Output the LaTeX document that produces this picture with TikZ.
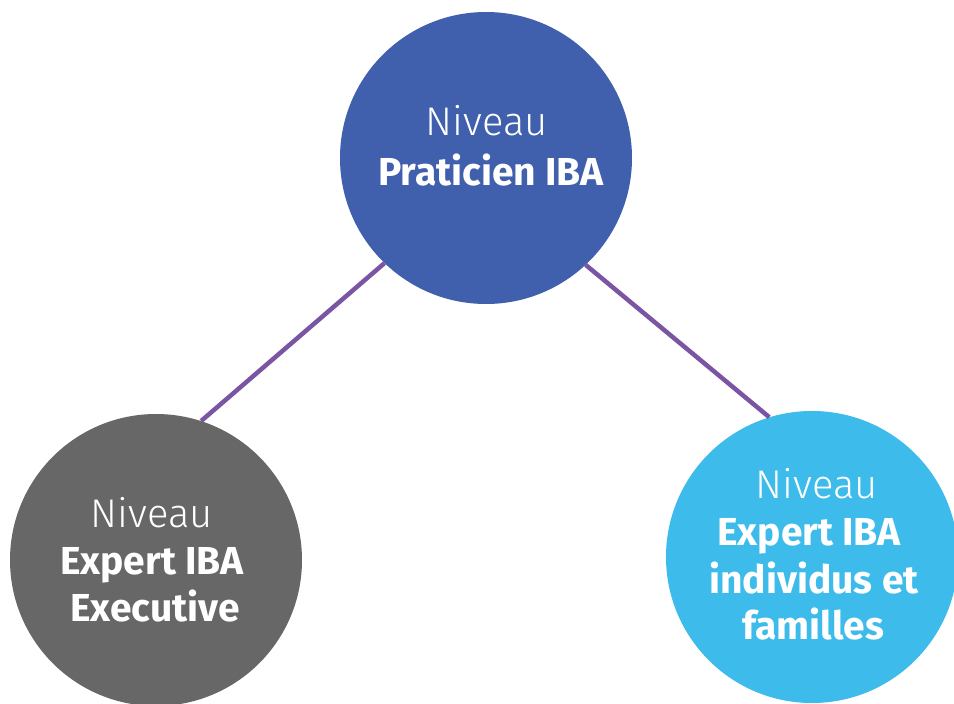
\documentclass[tikz,border=0pt]{standalone}
\usepackage{fontspec}
\setmainfont{Fira Sans}
\newfontfamily\lightfont{Fira Sans Light}
\definecolor{topblue}{HTML}{4060AD}
\definecolor{greyc}{HTML}{676767}
\definecolor{skyc}{HTML}{3DBBEA}
\definecolor{linec}{HTML}{7A55A4}
\tikzset{
  disc/.style={circle, minimum size=292pt, inner sep=0pt, draw=none},
  lvl/.style={text=white, font=\lightfont\fontsize{40}{40}\selectfont, anchor=base, inner sep=0pt},
  nm/.style={text=white, font=\bfseries\fontsize{39}{39}\selectfont, anchor=base, inner sep=0pt},
  link/.style={draw=linec, line width=4.5pt}
}
\begin{document}
\begin{tikzpicture}[x=1pt,y=-1pt]
\useasboundingbox (0,0) rectangle (954,704);
\fill[white] (0,0) rectangle (954,704);
\node[disc, fill=topblue] (top) at (486,158) {};
\node[disc, fill=greyc] (left) at (156,560) {};
\node[disc, fill=skyc] (right) at (812,557) {};
\draw[link] (top.226.6) -- (left.72.3);
\draw[link] (top.313.6) -- (right.107.6);
\node[lvl] (t1) at (487,135) {Niveau};
\node[nm] (t2) at (491,185) {Praticien IBA};
\node[lvl] (l1) at (152,527) {Niveau};
\node[nm] (l2) at (152,574) {Expert IBA};
\node[nm] (l3) at (155,621) {Executive};
\node[lvl] (r1) at (817,498) {Niveau};
\node[nm] (r2) at (809,545) {Expert IBA};
\node[nm] (r3) at (814,593) {individus et};
\node[nm] (r4) at (813,639) {familles};
\end{tikzpicture}
\end{document}
